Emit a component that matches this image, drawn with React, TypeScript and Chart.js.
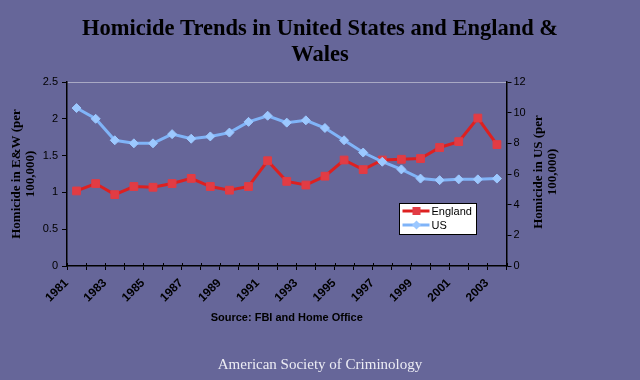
import React, { useEffect, useRef } from 'react';
import { Chart, registerables } from 'chart.js';

Chart.register(...registerables);

const years = ['1981', '1982', '1983', '1984', '1985', '1986', '1987', '1988', '1989', '1990', '1991', '1992', '1993', '1994', '1995', '1996', '1997', '1998', '1999', '2000', '2001', '2002', '2003'];
const englandRates = [1.02, 1.12, 0.97, 1.08, 1.07, 1.12, 1.19, 1.08, 1.03, 1.08, 1.43, 1.15, 1.1, 1.22, 1.44, 1.31, 1.44, 1.45, 1.46, 1.61, 1.69, 2.01, 1.65];
const usRates = [10.3, 9.6, 8.2, 8.0, 8.0, 8.6, 8.3, 8.45, 8.7, 9.4, 9.8, 9.35, 9.5, 9.0, 8.2, 7.4, 6.8, 6.3, 5.7, 5.6, 5.65, 5.65, 5.7];
const seriesNames = ['England', 'US'];
const titleLines = ['Homicide Trends in United States and England &', 'Wales'];
const leftTitle = ['Homicide in E&W (per', '100,000)'];
const rightTitle = ['Homicide in US (per', '100,000)'];
const sourceText = 'Source: FBI and Home Office';
const footerText = 'American Society of Criminology';

const BG = '#666699';
const ENG_LINE = '#dd2020';
const ENG_POINT = '#e23c44';
const US_LINE = '#80b4f8';
const US_POINT = '#9cc8ff';

export default function App() {
  const ref = useRef<HTMLCanvasElement>(null);

  useEffect(() => {
    document.body.style.margin = '0';
    const canvas = ref.current;
    if (!canvas) return;

    const crossTicks = {
      id: 'crossTicks',
      afterDraw(chart: any) {
        const { ctx, chartArea, scales } = chart;
        const x = scales.x;
        const step = x.getPixelForValue(1) - x.getPixelForValue(0);
        ctx.save();
        ctx.strokeStyle = '#000';
        ctx.lineWidth = 1;
        for (let i = 0; i <= years.length; i++) {
          const px = Math.round(x.getPixelForValue(0) - step / 2 + i * step) + 0.5;
          ctx.beginPath();
          ctx.moveTo(px, chartArea.bottom - 3);
          ctx.lineTo(px, chartArea.bottom);
          ctx.stroke();
        }
        ctx.restore();
      },
    };

    const rightAxisTitle = {
      id: 'rightAxisTitle',
      afterDraw(chart: any) {
        const { ctx, chartArea } = chart;
        const cy = (chartArea.top + chartArea.bottom) / 2 - 2;
        ctx.save();
        ctx.fillStyle = '#000';
        ctx.font = 'bold 13px "Liberation Serif"';
        ctx.textAlign = 'center';
        ctx.textBaseline = 'middle';
        rightTitle.forEach((line, i) => {
          ctx.save();
          ctx.translate(chartArea.right + 32 + i * 14, cy);
          ctx.rotate(-Math.PI / 2);
          ctx.fillText(line, 0, 0);
          ctx.restore();
        });
        ctx.restore();
      },
    };

    const boxLegend = {
      id: 'boxLegend',
      afterDraw(chart: any) {
        const { ctx, chartArea } = chart;
        const bx = Math.round(chartArea.right - 107.5) + 0.5;
        const by = Math.round(chartArea.top + 121) + 0.5;
        const bw = 77;
        const bh = 31;
        ctx.save();
        ctx.fillStyle = '#ffffff';
        ctx.fillRect(bx, by, bw, bh);
        ctx.strokeStyle = '#000';
        ctx.lineWidth = 1;
        ctx.strokeRect(bx, by, bw, bh);
        const rows = [
          { y: by + 7.5, line: ENG_LINE, point: ENG_POINT, shape: 'rect' },
          { y: by + 21.5, line: US_LINE, point: US_POINT, shape: 'diamond' },
        ];
        rows.forEach((r, i) => {
          ctx.strokeStyle = r.line;
          ctx.lineWidth = 3;
          ctx.beginPath();
          ctx.moveTo(bx + 3, r.y);
          ctx.lineTo(bx + 30, r.y);
          ctx.stroke();
          ctx.fillStyle = r.point;
          const cx = bx + 17;
          if (r.shape === 'rect') {
            ctx.fillRect(cx - 4, r.y - 4, 8, 8);
          } else {
            ctx.beginPath();
            ctx.moveTo(cx, r.y - 4.5);
            ctx.lineTo(cx + 4.5, r.y);
            ctx.lineTo(cx, r.y + 4.5);
            ctx.lineTo(cx - 4.5, r.y);
            ctx.closePath();
            ctx.fill();
          }
          ctx.fillStyle = '#000';
          ctx.font = '11px "Liberation Sans"';
          ctx.textAlign = 'left';
          ctx.textBaseline = 'middle';
          ctx.fillText(seriesNames[i], bx + 32, r.y + 0.5);
        });
        ctx.restore();
      },
    };

    const chart = new Chart(canvas, {
      type: 'line',
      data: {
        labels: years,
        datasets: [
          {
            label: seriesNames[0],
            data: englandRates,
            yAxisID: 'y',
            borderColor: ENG_LINE,
            backgroundColor: ENG_POINT,
            pointBackgroundColor: ENG_POINT,
            pointBorderColor: ENG_POINT,
            borderWidth: 3,
            pointStyle: 'rect',
            pointRadius: 5.5,
            pointBorderWidth: 1,
            tension: 0,
            order: 1,
          },
          {
            label: seriesNames[1],
            data: usRates,
            yAxisID: 'y1',
            borderColor: US_LINE,
            backgroundColor: US_POINT,
            pointBackgroundColor: US_POINT,
            pointBorderColor: US_POINT,
            borderWidth: 3,
            pointStyle: 'rectRot',
            pointRadius: 4.5,
            pointBorderWidth: 1,
            tension: 0,
            order: 0,
          },
        ],
      },
      options: {
        responsive: true,
        maintainAspectRatio: false,
        animation: false,
        layout: { padding: 0 },
        plugins: {
          legend: { display: false },
          tooltip: { enabled: false },
          title: {
            display: true,
            text: titleLines,
            color: '#000',
            font: { family: '"Liberation Serif"', size: 22.5, weight: 'bold', lineHeight: 1.12 },
            padding: { top: 17, bottom: 14.6 },
          },
          subtitle: {
            display: true,
            position: 'bottom',
            text: footerText,
            color: '#ececf4',
            font: { family: '"Liberation Serif"', size: 15, weight: 'normal', lineHeight: 1.2 },
            padding: { top: 10, bottom: 6 },
          },
        },
        scales: {
          x: {
            type: 'category',
            offset: true,
            grid: { offset: true, drawOnChartArea: false, drawTicks: true, tickLength: 4, tickColor: '#000' },
            border: { display: true, color: '#000', width: 1.5 },
            ticks: {
              autoSkip: false,
              minRotation: 45,
              maxRotation: 45,
              labelOffset: -10,
              padding: 6,
              color: '#000',
              font: { family: '"Liberation Sans"', size: 12, weight: 'bold' },
              callback: (_v: any, i: number) => (i % 2 === 0 ? years[i] : ''),
            },
            title: {
              display: true,
              text: sourceText,
              color: '#000',
              font: { family: '"Liberation Sans"', size: 11, weight: 'bold' },
              padding: { top: 0, bottom: 21 },
            },
            afterFit: (s: any) => { s.height = 80; },
          },
          y: {
            position: 'left',
            min: 0,
            max: 2.5,
            ticks: {
              stepSize: 0.5,
              padding: 4,
              color: '#000',
              font: { family: '"Liberation Sans"', size: 11 },
              callback: (v: any) => String(v),
            },
            grid: {
              drawOnChartArea: true,
              color: (c: any) => (c.tick && c.tick.value === 2.5 ? '#a9a9c4' : 'rgba(0,0,0,0)'),
              tickColor: '#000',
              tickLength: 5,
            },
            border: { display: true, color: '#000', width: 1.5 },
            title: {
              display: true,
              text: leftTitle,
              color: '#000',
              font: { family: '"Liberation Serif"', size: 13, weight: 'bold', lineHeight: 1.1 },
              padding: { top: 9, bottom: 0 },
            },
            afterFit: (s: any) => { s.width = 67; },
          },
          y1: {
            position: 'right',
            min: 0,
            max: 12,
            ticks: {
              stepSize: 2,
              padding: 2,
              color: '#000',
              font: { family: '"Liberation Sans"', size: 11 },
              callback: (v: any) => String(v),
            },
            grid: { drawOnChartArea: false, tickColor: '#000', tickLength: 5 },
            border: { display: true, color: '#000', width: 1.5 },
            afterFit: (s: any) => { s.width = 133.5; },
          },
        },
      },
      plugins: [crossTicks, rightAxisTitle, boxLegend],
    });

    return () => chart.destroy();
  }, []);

  return (
    <div style={{ width: 640, height: 380, background: BG, position: 'relative' }}>
      <canvas ref={ref} />
    </div>
  );
}
